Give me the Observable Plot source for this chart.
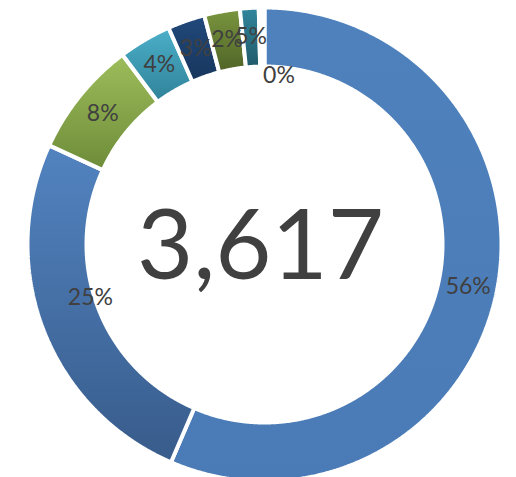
<!DOCTYPE html>
<html><head><meta charset="utf-8">
<script src="https://cdn.jsdelivr.net/npm/d3@7"></script>
<script src="https://cdn.jsdelivr.net/npm/@observablehq/plot@0.6"></script>
<style>body{margin:0;background:#fff;}</style>
</head><body><div id="chart"></div>
<script>
// ---- data ----
const categories = ["Category 1","Category 2","Category 3","Category 4","Category 5","Category 6","Category 7","Category 8"];
const values = [2042, 919, 286, 130, 92, 88, 46, 14];
const labels = ["56%","25%","8%","4%","3%","2%","5%","0%"];
const totalLabel = "3,617";
const colorsTop    = ["#4F81BD","#5283C0","#9DBD5B","#4CAFC9","#21497C","#7A963E","#31869D","#FFFFFF"];
const colorsBottom = ["#4A7BB6","#385C8B","#6E8C39","#2F8299","#17365C","#4F6327","#215A6A","#FFFFFF"];

// ---- geometry derived from the data ----
const total = d3.sum(values);
const angle = d3.scaleLinear().domain([0, total]).range([0, 2 * Math.PI]);
let cum = 0;
const slices = values.map((v, i) => {
  const a0 = angle(cum); cum += v; const a1 = angle(cum);
  return {i, cat: categories[i], label: labels[i], a0, a1, mid: (a0 + a1) / 2};
});
const R1 = 237, R0 = 178, RL = 208;
const pts = [];
slices.forEach(s => {
  const n = Math.max(2, Math.ceil((s.a1 - s.a0) / 0.005));
  const ring = [];
  for (let k = 0; k <= n; k++) { const a = s.a0 + (s.a1 - s.a0) * k / n; ring.push([R1 * Math.sin(a), R1 * Math.cos(a)]); }
  for (let k = n; k >= 0; k--) { const a = s.a0 + (s.a1 - s.a0) * k / n; ring.push([R0 * Math.sin(a), R0 * Math.cos(a)]); }
  ring.push(ring[0]);
  ring.forEach(p => pts.push({cat: s.cat, x: p[0], y: p[1]}));
});

const lx = d => RL * Math.sin(d.mid);
const ly = d => RL * Math.cos(d.mid);
const font = "Lato, 'Open Sans', sans-serif";
const labelOpts = {x: lx, y: ly, text: "label", fontSize: 23, fill: "#404040", fontFamily: font};

const svg = Plot.plot({
  width: 516, height: 477,
  margin: 0,
  x: {domain: [-264, 252], range: [0, 516], axis: null},
  y: {domain: [-233, 244], range: [477, 0], axis: null},
  marks: [
    ...categories.map((c, i) => Plot.line(pts.filter(d => d.cat === c), {
      x: "x", y: "y", fill: `url(#grad${i})`, stroke: "white", strokeWidth: 4, strokeLinejoin: "miter"
    })),
    Plot.text(slices.filter(s => s.i !== 1 && s.i !== 7), labelOpts),
    Plot.text(slices.filter(s => s.i === 1), {...labelOpts, dx: 20, dy: -22}),
    Plot.text(slices.filter(s => s.i === 7), {...labelOpts, dx: 17, dy: 39}),
    Plot.text([totalLabel], {x: () => 0, y: () => 0, text: d => d, fontSize: 97, fill: "#404040", fontFamily: font, dx: -4, dy: 3})
  ]
});

const ns = "http://www.w3.org/2000/svg";
const defs = document.createElementNS(ns, "defs");
colorsTop.forEach((c, i) => {
  const g = document.createElementNS(ns, "linearGradient");
  g.setAttribute("id", `grad${i}`);
  g.setAttribute("x1", "0"); g.setAttribute("y1", "0"); g.setAttribute("x2", "0"); g.setAttribute("y2", "1");
  [[0, c], [1, colorsBottom[i]]].forEach(([o, col]) => {
    const st = document.createElementNS(ns, "stop");
    st.setAttribute("offset", o); st.setAttribute("stop-color", col);
    g.appendChild(st);
  });
  defs.appendChild(g);
});
svg.insertBefore(defs, svg.firstChild);
document.getElementById("chart").appendChild(svg);
</script>
</body></html>
